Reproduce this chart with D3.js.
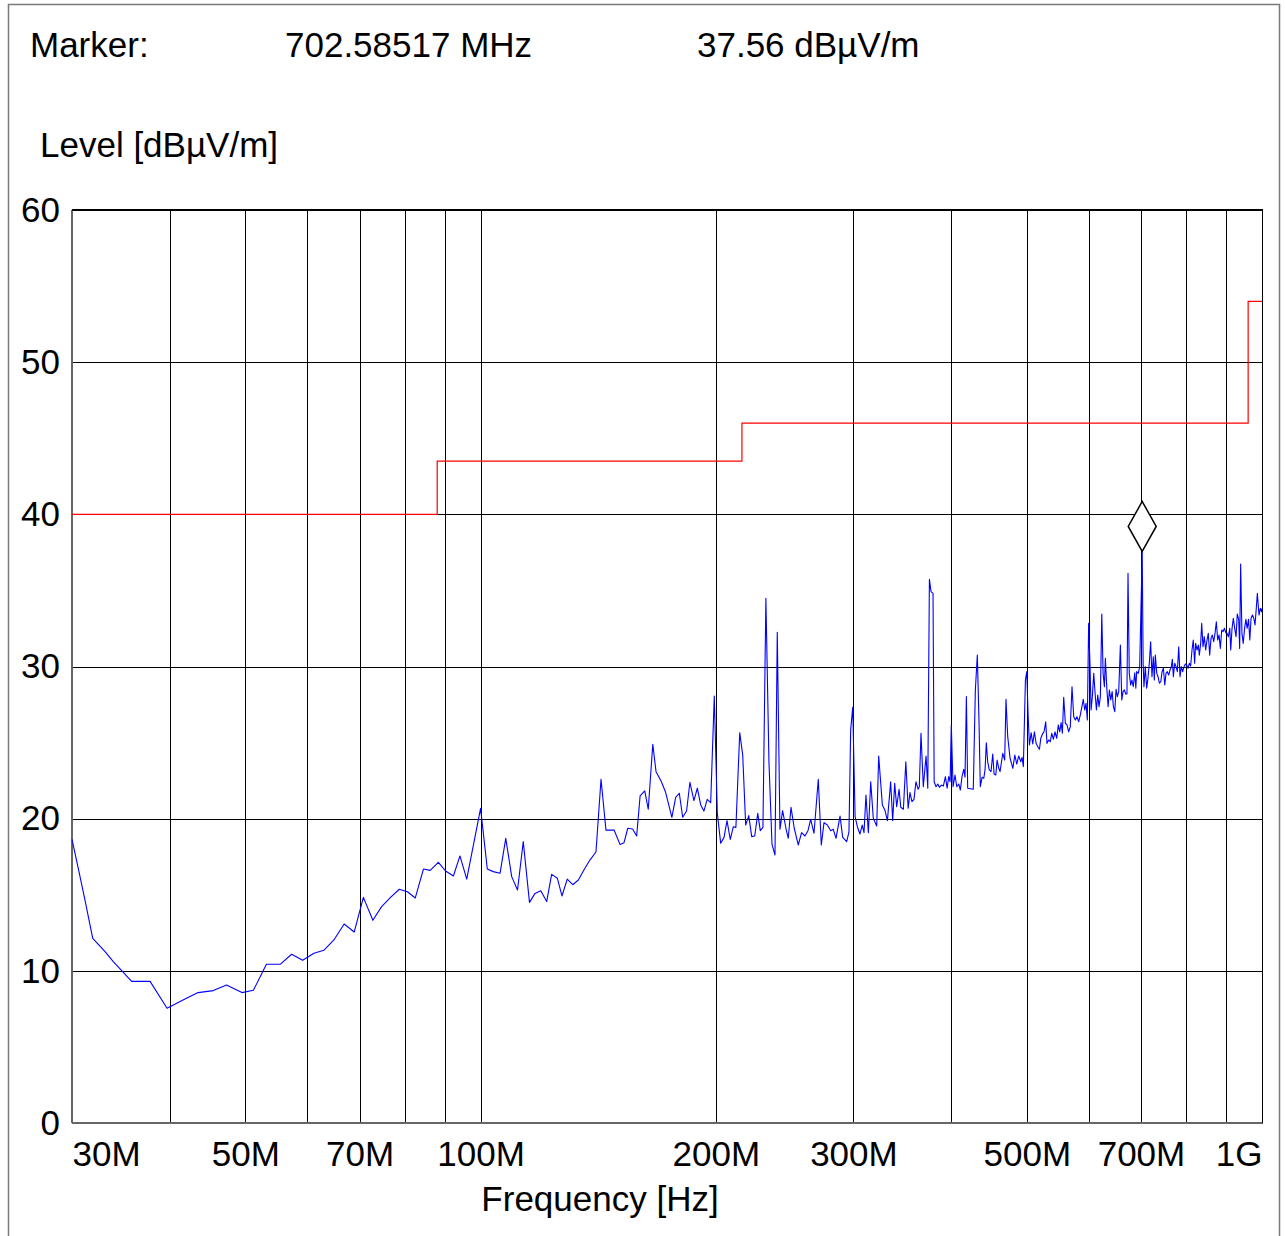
<!DOCTYPE html>
<html>
<head>
<meta charset="utf-8">
<script src="https://cdn.jsdelivr.net/npm/d3@7"></script>
<style>
  html, body { margin: 0; padding: 0; background: #fff; }
  svg { display: block; }
  text { font-family: "Liberation Sans", Arial, Helvetica, sans-serif; fill: #000; }
</style>
</head>
<body>
<svg id="chart" width="1285" height="1236"></svg>
<script>
// ---------------- data ----------------
const freqMHz = [
  30, 30.56, 31.17, 31.89, 33.07, 33.88, 34.73, 35.76, 37.76, 39.7,
  41.85, 43.5, 45.5, 47.3, 49.5, 51.2, 53.2, 55.4, 57.3, 59.2,
  61.2, 63.0, 64.9, 66.9, 68.9, 70.8, 72.8, 74.7, 76.7, 78.7,
  80.6, 82.5, 84.5, 86.2, 88.3, 90.2, 92.3, 94.1, 96.0, 100.0,
  102.0, 103.8, 105.9, 107.7, 109.6, 111.5, 113.4, 115.5, 117.4, 119.4,
  121.5, 123.3, 125.4, 127.1, 129.1, 131.2, 133.4, 135.6, 138.0, 140.5,
  142.6, 144.7, 148.2, 150.8, 152.6, 154.3, 156.5, 158.4, 160.0, 162.2,
  163.9, 166.1, 167.7, 170.2, 172.4, 174.1, 175.7, 177.7, 179.6, 181.4,
  183.5, 185.3, 187.5, 189.4, 191.3, 193.1, 195.0, 197.0, 199.1, 200.9,
  202.9, 204.9, 206.7, 208.7, 210.6, 212.2, 214.6, 216.5, 218.4, 220.4,
  222.3, 224.3, 226.3, 228.0, 229.8, 231.8, 233.9, 236.0, 238.1, 239.7,
  241.6, 243.5, 245.9, 247.6, 249.6, 252.0, 255.0, 257.5, 260.1, 262.4,
  264.5, 267.1, 270.5, 272.9, 275.1, 277.8, 280.6, 282.7, 285.0, 288.4,
  290.7, 294.1, 296.1, 297.6, 299.4, 301.5, 303.5, 305.8, 307.9, 309.5,
  311.3, 313.5, 315.7, 318.1, 321.3, 323.2, 326.7, 329.1, 331.6, 334.8,
  336.8, 338.8, 340.8, 343.2, 344.9, 347.6, 350.1, 352.5, 354.4, 356.5,
  358.6, 360.7, 363.0, 364.3, 366.1, 368.6, 371.6, 373.5, 375.3, 377.1,
  379.3, 380.6, 382.7, 384.7, 386.5, 388.8, 391.1, 393.4, 395.4, 397.3,
  398.9, 400.3, 402.4, 404.7, 406.8, 409.2, 411.1, 413.2, 415.3, 416.8,
  418.5, 420.1, 427.1, 429.7, 432.2, 434.3, 436.0, 438.3, 440.5, 442.2,
  443.8, 445.6, 447.7, 450.0, 452.3, 454.1, 456.4, 458.1, 460.4, 462.1,
  465.9, 468.5, 470.3, 472.7, 476.0, 479.9, 482.7, 485.5, 488.3, 491.2,
  493.1, 495.0, 498.0, 500.0, 501.9, 503.9, 506.5, 508.9, 511.4, 513.9,
  516.5, 519.0, 521.1, 524.2, 526.1, 528.7, 530.7, 533.3, 535.9, 538.2,
  540.8, 543.4, 546.1, 548.7, 551.0, 553.2, 555.3, 557.5, 560.2, 562.9,
  565.7, 568.4, 571.3, 574.2, 576.9, 579.7, 582.7, 585.4, 588.2, 590.6,
  593.1, 595.4, 597.7, 600.0, 602.5, 604.3, 606.6, 609.1, 611.5, 613.9,
  616.3, 618.7, 621.1, 623.7, 626.1, 628.5, 630.3, 633.0, 635.4, 637.8,
  640.5, 643.0, 645.4, 648.0, 650.5, 653.0, 655.6, 658.8, 661.5, 664.0,
  666.6, 669.3, 671.7, 673.8, 676.3, 679.1, 681.6, 684.3, 687.3, 689.5,
  691.2, 694.5, 697.4, 702.585, 704.5, 706.2, 709.0, 711.9, 714.6, 717.4,
  720.3, 723.1, 725.9, 728.1, 730.3, 733.4, 736.2, 739.1, 742.2, 744.9,
  747.8, 750.9, 753.6, 756.5, 759.6, 762.6, 765.6, 767.9, 770.1, 773.3,
  776.2, 779.2, 782.4, 785.4, 788.4, 791.6, 794.8, 797.8, 801.0, 804.1,
  807.2, 810.4, 813.6, 816.7, 820.0, 822.4, 825.9, 829.0, 831.4, 834.7,
  837.2, 840.4, 843.6, 847.0, 850.4, 853.6, 857.1, 860.5, 863.8, 867.3,
  870.7, 874.1, 877.6, 881.1, 884.5, 888.1, 891.7, 895.2, 898.8, 902.2,
  905.7, 909.4, 912.0, 915.5, 919.0, 922.7, 926.3, 929.8, 933.6, 936.3,
  939.0, 942.6, 946.2, 950.0, 953.6, 957.2, 961.1, 964.7, 968.3, 972.2,
  976.0, 979.7, 983.6, 986.4, 991.2, 995.0, 999.0, 1000
];
const levelDb = [
  18.64, 16.74, 14.65, 12.14, 11.26, 10.6, 10.01, 9.31, 9.31, 7.54,
  8.15, 8.57, 8.7, 9.07, 8.57, 8.72, 10.43, 10.43, 11.09, 10.69,
  11.15, 11.35, 12.03, 13.08, 12.55, 14.83, 13.32, 14.22, 14.83, 15.36,
  15.2, 14.79, 16.69, 16.6, 17.13, 16.56, 16.23, 17.55, 16.03, 20.68,
  16.69, 16.52, 16.41, 18.71, 16.19, 15.31, 18.49, 14.5, 15.09, 15.27,
  14.55, 16.34, 16.08, 14.92, 16.03, 15.66, 15.97, 16.63, 17.28, 17.81,
  22.59, 19.25, 19.25, 18.31, 18.42, 19.37, 19.32, 18.86, 21.49, 21.82,
  20.62, 24.89, 23.09, 22.47, 21.77, 20.9, 20.09, 21.4, 21.67, 20.09,
  20.5, 22.39, 21.18, 22.0, 20.9, 20.5, 21.27, 21.05, 28.06, 20.35,
  18.38, 18.77, 19.87, 18.64, 19.47, 19.43, 25.65, 24.18, 19.58, 20.2,
  18.82, 18.86, 20.35, 19.21, 19.43, 34.48, 23.74, 18.33, 17.61, 32.25,
  19.3, 20.53, 19.37, 18.71, 20.75, 19.37, 18.27, 19.08, 18.86, 19.21,
  19.96, 19.04, 22.59, 18.27, 19.74, 19.58, 19.21, 19.3, 18.71, 20.17,
  18.77, 18.49, 19.14, 25.87, 27.32, 20.13, 19.47, 18.99, 19.58, 19.08,
  21.55, 19.08, 22.43, 20.02, 19.52, 24.12, 20.9, 20.57, 19.87, 22.43,
  19.87, 22.32, 20.79, 21.93, 20.75, 20.62, 23.74, 20.68, 21.71, 21.12,
  21.27, 22.43, 21.93, 22.1, 25.61, 22.1, 24.12, 22.0, 35.73, 34.92,
  34.81, 22.43, 22.1, 22.28, 22.06, 22.21, 22.15, 22.76, 22.0, 22.76,
  22.43, 26.16, 22.1, 22.87, 22.1, 22.28, 21.88, 22.8, 23.24, 22.72,
  28.02, 22.0, 21.93, 28.46, 30.75, 26.48, 22.1, 22.72, 22.65, 23.24,
  24.99, 23.74, 23.2, 23.09, 24.25, 22.94, 22.87, 23.85, 23.31, 23.09,
  24.29, 23.85, 27.84, 25.39, 23.97, 23.31, 24.18, 23.59, 24.12, 23.74,
  24.03, 23.42, 29.11, 29.66, 26.92, 24.84, 25.65, 24.91, 25.71, 24.95,
  24.73, 24.56, 25.28, 25.61, 25.71, 26.37, 24.95, 25.17, 25.06, 25.61,
  25.22, 25.71, 25.28, 26.16, 25.71, 26.31, 25.61, 27.98, 26.27, 26.16,
  25.71, 26.04, 28.67, 26.7, 26.48, 26.7, 26.37, 26.81, 27.36, 27.84,
  27.14, 27.58, 26.48, 32.84, 29.99, 27.14, 28.02, 29.55, 28.24, 27.14,
  28.13, 27.36, 28.02, 33.45, 29.55, 28.67, 30.54, 28.57, 27.36, 28.46,
  27.8, 28.35, 27.36, 27.03, 28.5, 28.02, 28.35, 31.41, 27.8, 28.35,
  28.46, 28.19, 28.19, 36.12, 29.55, 28.78, 29.11, 28.67, 29.59, 28.57,
  29.66, 29.55, 29.99, 37.56, 30.21, 28.67, 29.99, 28.57, 29.22, 30.21,
  31.63, 29.33, 30.64, 29.11, 30.75, 29.55, 29.33, 28.9, 29.0, 29.66,
  29.88, 28.78, 29.55, 29.66, 29.44, 29.77, 29.99, 30.47, 29.33, 30.21,
  29.99, 29.66, 31.3, 29.33, 29.99, 29.66, 29.99, 30.16, 30.1, 29.88,
  30.21, 30.03, 31.08, 31.74, 30.21, 31.52, 31.08, 31.41, 30.75, 31.52,
  32.84, 31.3, 31.96, 31.08, 31.74, 32.18, 30.75, 31.85, 32.07, 31.63,
  32.18, 32.94, 31.74, 32.07, 31.19, 32.4, 32.29, 32.51, 32.22, 32.18,
  31.96, 32.51, 31.08, 32.51, 33.17, 32.51, 31.96, 33.45, 33.1, 31.19,
  36.74, 32.18, 31.52, 32.51, 33.1, 32.51, 33.1, 31.74, 33.17, 33.38,
  33.17, 32.73, 33.93, 34.81, 33.38, 33.82, 33.6, 33.82
];
// limit line (step)
const limitFreq  = [30, 88, 88, 216, 216, 960, 960, 1000];
const limitLevel = [40, 40, 43.5, 43.5, 46, 46, 54, 54];

const gridFreqs  = [40, 50, 60, 70, 80, 90, 100, 200, 300, 400, 500, 600, 700, 800, 900];
const labelFreqs = [30, 50, 70, 100, 200, 300, 500, 700, 1000];
const labelTexts = ["30M", "50M", "70M", "100M", "200M", "300M", "500M", "700M", "1G"];
const yTicks     = [0, 10, 20, 30, 40, 50, 60];

const markerFreq  = 702.58517;
const markerLevel = 37.56;
const markerTexts = ["Marker:", "702.58517 MHz", "37.56 dBµV/m"];

// ---------------- layout ----------------
const svg = d3.select("#chart");
const L = 72, R = 1262, T = 210, B = 1123;
const x = d3.scaleLog().domain([30, 1000]).range([L, R]);
const y = d3.scaleLinear().domain([0, 60]).range([B, T]);
const FS = 35;

// outer border
svg.append("rect").attr("x", 8.5).attr("y", 4.5).attr("width", 1271).attr("height", 1240)
  .attr("fill", "none").attr("stroke", "#7a7a7a").attr("stroke-width", 1.5);

// header texts
const hx = [30, 285, 697];
markerTexts.forEach((t, i) => {
  svg.append("text").attr("x", hx[i]).attr("y", 57).attr("font-size", FS).text(t);
});
svg.append("text").attr("x", 40).attr("y", 157).attr("font-size", FS).text("Level [dBµV/m]");

// grid: vertical
const gx = svg.append("g").attr("transform", `translate(0,${B})`)
  .call(d3.axisBottom(x).tickValues(gridFreqs).tickSize(-(B - T)).tickFormat(""));
gx.select(".domain").remove();
gx.selectAll(".tick line").attr("stroke", "#000").attr("stroke-width", 1).attr("shape-rendering", "crispEdges");

// grid: horizontal
const gy = svg.append("g").attr("transform", `translate(${L},0)`)
  .call(d3.axisLeft(y).tickValues(yTicks).tickSize(-(R - L)).tickFormat(""));
gy.select(".domain").remove();
gy.selectAll(".tick line").attr("stroke", "#000").attr("stroke-width", 1).attr("shape-rendering", "crispEdges");

// y labels
const yl = svg.append("g").attr("transform", `translate(${L},0)`)
  .call(d3.axisLeft(y).tickValues(yTicks).tickSize(0).tickPadding(12).tickFormat(d3.format("d")));
yl.select(".domain").remove();
yl.selectAll("text").attr("font-size", FS).attr("font-family", '"Liberation Sans", Arial, sans-serif')
  .attr("fill", "#000");

// x labels
const xl = svg.append("g").attr("transform", `translate(0,${B})`)
  .call(d3.axisBottom(x).tickValues(labelFreqs).tickSize(0).tickPadding(18)
    .tickFormat((d, i) => labelTexts[i]));
xl.select(".domain").remove();
xl.selectAll("text").attr("font-size", FS).attr("font-family", '"Liberation Sans", Arial, sans-serif')
  .attr("fill", "#000")
  .attr("text-anchor", (d, i) => i === 0 ? "start" : (i === labelFreqs.length - 1 ? "end" : "middle"));

svg.append("text").attr("x", 600).attr("y", 1211).attr("text-anchor", "middle")
  .attr("font-size", FS).text("Frequency [Hz]");

// plot frame
svg.append("line").attr("x1", L).attr("x2", L).attr("y1", T).attr("y2", B)
  .attr("stroke", "#666").attr("stroke-width", 2);
svg.append("line").attr("x1", L).attr("x2", R + 1).attr("y1", B).attr("y2", B)
  .attr("stroke", "#666").attr("stroke-width", 2);
svg.append("line").attr("x1", L).attr("x2", R + 1).attr("y1", T).attr("y2", T)
  .attr("stroke", "#000").attr("stroke-width", 2);
svg.append("line").attr("x1", R + 0.5).attr("x2", R + 0.5).attr("y1", T).attr("y2", B)
  .attr("stroke", "#000").attr("stroke-width", 1);

// limit line
const limData = limitFreq.map((f, i) => [f, limitLevel[i]]);
svg.append("path").datum(limData)
  .attr("d", d3.line().x(d => x(d[0])).y(d => y(d[1])))
  .attr("fill", "none").attr("stroke", "#ff0000").attr("stroke-width", 1.2);

// trace
const trace = freqMHz.map((f, i) => [f, levelDb[i]]);
svg.append("path").datum(trace)
  .attr("d", d3.line().x(d => x(d[0])).y(d => y(d[1])))
  .attr("fill", "none").attr("stroke", "#0000ff").attr("stroke-width", 1.1)
  .attr("stroke-linejoin", "round");

// marker diamond (bottom tip at the marker value)
const mx = x(markerFreq), my = y(markerLevel);
svg.append("path")
  .attr("d", `M${mx},${my} L${mx + 14},${my - 25} L${mx},${my - 50} L${mx - 14},${my - 25} Z`)
  .attr("fill", "#fff").attr("stroke", "#000").attr("stroke-width", 1.5);
</script>
</body>
</html>
